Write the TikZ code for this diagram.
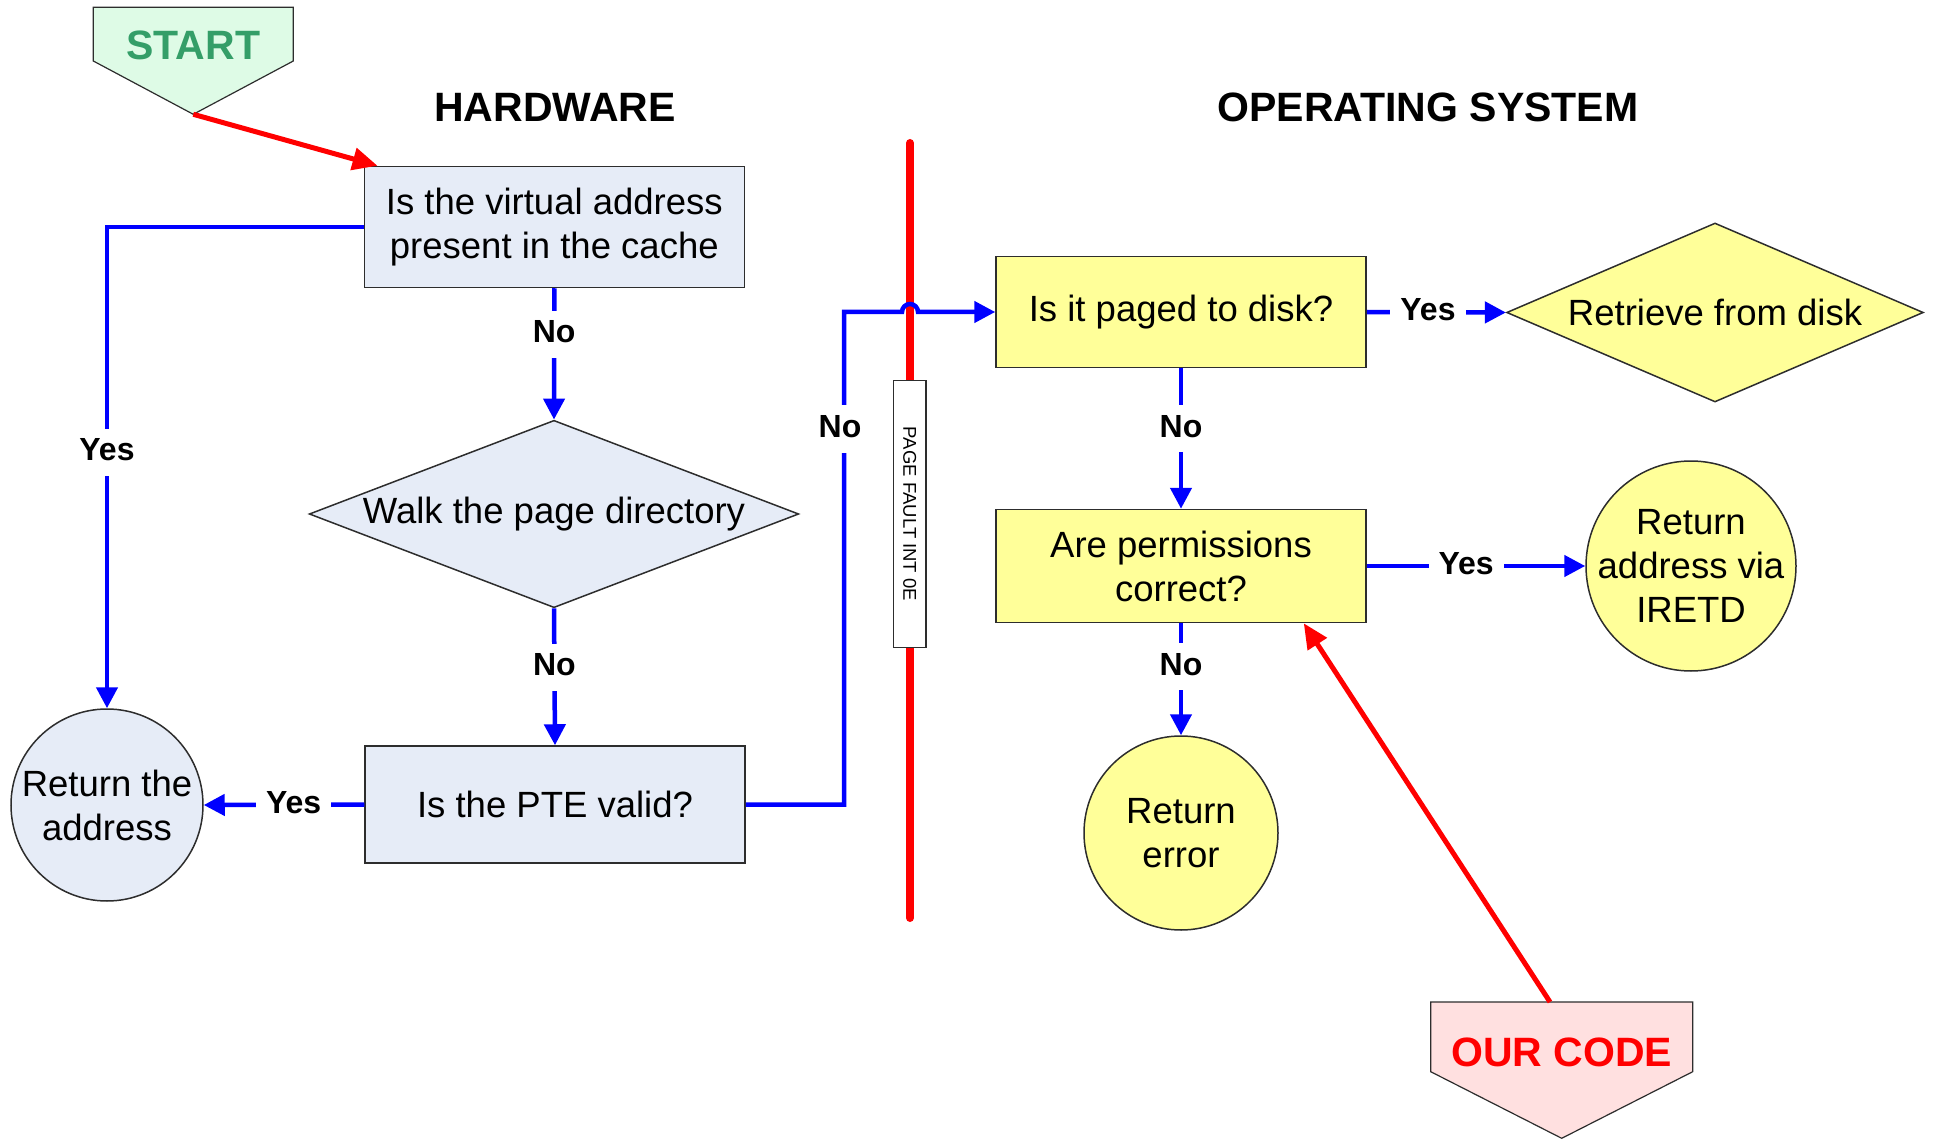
\documentclass[tikz,border=0pt]{standalone}
\usepackage{fontspec}
\setmainfont{Liberation Sans}
\usetikzlibrary{shapes.geometric,arrows.meta}

\definecolor{hwfill}{RGB}{230,236,247}
\definecolor{osfill}{RGB}{255,255,153}
\definecolor{startfill}{RGB}{222,251,230}
\definecolor{startink}{RGB}{52,158,104}
\definecolor{codefill}{RGB}{255,224,224}
\definecolor{edge}{RGB}{45,45,45}

\newcommand\bodyfont{\fontsize{36.5}{44}\selectfont}
\newcommand\headfont{\fontsize{41}{46}\selectfont\bfseries}
\newcommand\lblfont{\fontsize{32}{36}\selectfont\bfseries}
\newcommand\tagfont{\fontsize{18.5}{22}\selectfont}

\begin{document}
\begin{tikzpicture}[x=1pt,y=-1pt,
  hwbox/.style={draw=edge, line width=1.5pt, fill=hwfill, align=center, font=\bodyfont, inner sep=0pt},
  osbox/.style={draw=edge, line width=1.5pt, fill=osfill, align=center, font=\bodyfont, inner sep=0pt},
  txt/.style={align=center, font=\bodyfont, inner sep=0pt},
  flow/.style={draw=blue, line width=4.5pt, -{Triangle[length=21pt,width=21pt]}},
  cue/.style={draw=red, line width=5pt, -{Triangle[length=25pt,width=22pt]}},
  rail/.style={draw=red, line width=8pt, line cap=round},
  lbl/.style={fill=white, font=\lblfont, inner xsep=10pt, inner ysep=9pt, text height=23pt, text depth=6pt},
  heading/.style={font=\headfont, inner sep=0pt}]
\useasboundingbox (0,0) rectangle (1933,1139);

% section headings
\node[heading] (hw) at (555,107) {HARDWARE};
\node[heading] (os) at (1428,107) {OPERATING SYSTEM};

% the page-fault boundary between hardware and OS
\coordinate (railtop) at (910,143);
\coordinate (railbot) at (910,918);
\draw[rail] (railtop) -- (railbot);
\node[draw=edge, line width=1.2pt, fill=white, minimum width=32.7pt, minimum height=266.6pt, inner sep=0pt] (pf) at (909.7,514) {};
\node[rotate=-90, font=\tagfont, inner sep=0pt] (pftext) at (pf) {PAGE FAULT INT 0E};

% hardware side
\node[hwbox, minimum width=380pt, minimum height=121pt] (cache) at (554.3,227) {Is the virtual address\\present in the cache};
\node[hwbox, diamond, aspect=2.615, minimum width=489.5pt, minimum height=187.4pt] (walk) at (554,514) {Walk the page directory};
\node[hwbox, minimum width=380pt, minimum height=117pt] (pte) at (555,804.5) {Is the PTE valid?};
\node[hwbox, circle, minimum size=192pt] (retaddr) at (107,805) {};
\node[txt] (retaddrtext) at (retaddr) {Return the\\address};

% operating system side
\node[osbox, minimum width=370pt, minimum height=111pt] (paged) at (1181,312) {Is it paged to disk?};
\node[osbox, diamond, aspect=2.33, minimum width=416.7pt, minimum height=179pt] (retrieve) at (1715,312.5) {Retrieve from disk};
\node[osbox, minimum width=370pt, minimum height=113pt] (perm) at (1181,566) {Are permissions\\correct?};
\node[osbox, circle, minimum size=210pt] (iretd) at (1691,566) {};
\node[txt] (iretdtext) at (iretd) {Return\\address via\\IRETD};
\node[osbox, circle, minimum size=194pt] (err) at (1181,833) {};
\node[txt] (errtext) at (err) {Return\\error};

% entry and exit markers
\path[draw=edge, line width=1.2pt, fill=startfill] (93.3,7.3) -- (293.3,7.3) -- (293.3,61) -- (193.3,114.3) -- (93.3,61) -- cycle;
\node[font=\headfont, text=startink, inner sep=0pt] (start) at (193.3,45) {START};
\coordinate (starttip) at (193.3,114.3);

\path[draw=edge, line width=1.2pt, fill=codefill] (1430.7,1002) -- (1692.7,1002) -- (1692.7,1071.7) -- (1561.7,1138.3) -- (1430.7,1071.7) -- cycle;
\node[font=\headfont, text=red, inner sep=0pt] (ourcode) at (1561.7,1052.7) {OUR CODE};
\coordinate (codetop) at (1550,1002);

% hardware flow
\draw[flow] (cache.south) -- node[lbl, pos=0.35] {No} (walk.north);
\draw[flow] (walk.south) -- node[lbl, pos=0.43] {No} (pte.north);
\draw[flow] (cache.west) -| (retaddr.north);
\node[lbl] (yeshit) at (107,452) {Yes};
\draw[flow] (pte.west) -- node[lbl, pos=0.44] {Yes} (retaddr.east);

% fault path into the OS, hopping over the boundary
\coordinate (jog) at (844,312);
\coordinate (hopL) at (902,312);
\draw[flow] (pte.east) -| (jog) -- (hopL) arc[start angle=180, end angle=360, radius=8] -- (paged.west);
\node[lbl] (nofault) at (840,429) {No};

% OS flow
\draw[flow] (paged.east) -- node[lbl, pos=0.44] {Yes} (retrieve.west);
\draw[flow] (paged.south) -- node[lbl, pos=0.43] {No} (perm.north);
\draw[flow] (perm.east) -- node[lbl, pos=0.455] {Yes} (iretd.west);
\draw[flow] (perm.south) -- node[lbl, pos=0.39] {No} (err.north);

% red pointers
\draw[cue] (starttip) -- ([xshift=14pt]cache.north west);
\draw[cue] (codetop) -- ([xshift=-63pt]perm.south east);
\end{tikzpicture}
\end{document}
